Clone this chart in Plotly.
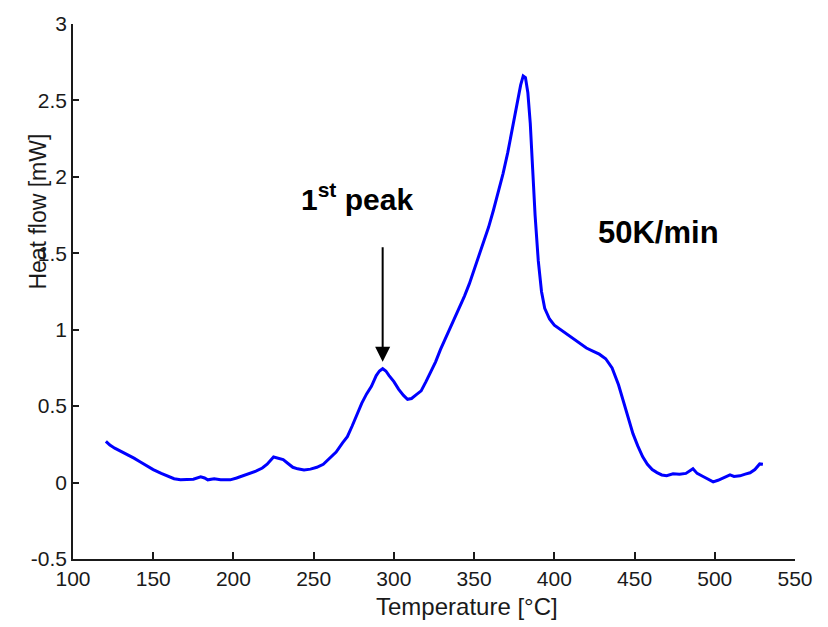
import plotly.graph_objects as go

temperature = [120.5, 123, 126, 130, 134, 138, 142, 146, 150, 155, 159, 163, 167, 171, 175, 179.6, 182, 184, 188, 192,
               198, 202, 206, 210, 214, 218, 221, 225, 228, 231, 234, 237, 240, 244, 248, 252, 256, 260, 264, 268,
               271, 274, 277, 280, 283, 286, 289, 291, 293, 295, 297, 300, 303, 306, 308.5, 311, 314, 317, 320, 323,
               326, 329, 332, 335, 338, 341, 344, 347, 350, 353, 356, 359, 362, 365, 368, 371, 374, 377, 379, 380.6,
               382, 383.5, 385, 386.5, 388, 390, 392, 394, 397, 400, 404, 408, 412, 416, 420, 424, 428, 432, 436, 440,
               443, 446, 449, 452, 455, 458, 461, 464, 467, 470, 474, 478, 482, 486.4, 489, 492.7, 496, 499, 502, 504.5, 507,
               509.5, 512, 515.7, 519, 522, 525, 528, 530]
heat_flow = [0.27, 0.245, 0.225, 0.205, 0.18, 0.16, 0.135, 0.11, 0.085, 0.06, 0.044, 0.025, 0.018, 0.018, 0.022, 0.038, 0.03, 0.018, 0.025, 0.018,
             0.018, 0.03, 0.044, 0.06, 0.075, 0.095, 0.12, 0.167, 0.16, 0.15, 0.125, 0.10, 0.09, 0.083, 0.088, 0.10, 0.12, 0.16, 0.2, 0.26,
             0.30, 0.37, 0.446, 0.52, 0.58, 0.63, 0.70, 0.73, 0.745, 0.73, 0.70, 0.66, 0.61, 0.57, 0.545, 0.55, 0.575, 0.60, 0.66, 0.72,
             0.79, 0.87, 0.94, 1.0, 1.07, 1.14, 1.22, 1.30, 1.39, 1.48, 1.57, 1.67, 1.78, 1.90, 2.02, 2.16, 2.32, 2.50, 2.60, 2.66,
             2.65, 2.55, 2.35, 2.05, 1.75, 1.45, 1.25, 1.14, 1.07, 1.03, 1.0, 0.97, 0.94, 0.91, 0.88, 0.86, 0.84, 0.81, 0.75, 0.64,
             0.53, 0.42, 0.32, 0.24, 0.17, 0.12, 0.085, 0.065, 0.05, 0.045, 0.057, 0.055, 0.06, 0.09, 0.06, 0.04, 0.02, 0.005, 0.015, 0.025, 0.04,
             0.05, 0.04, 0.044, 0.055, 0.064, 0.085, 0.122, 0.12]

x_ticks = [100, 150, 200, 250, 300, 350, 400, 450, 500, 550]
y_ticks = [-0.5, 0, 0.5, 1, 1.5, 2, 2.5, 3]
y_tick_text = ["-0.5", "0", "0.5", "1", "1.5", "2", "2.5", "3"]

FONT = "Liberation Sans, Arial, Helvetica, sans-serif"
AXC = "#1a1a1a"

fig = go.Figure()
fig.add_trace(go.Scatter(x=temperature, y=heat_flow, mode="lines",
                         line=dict(color="#0000ff", width=3), showlegend=False))

fig.update_layout(
    width=828, height=627,
    margin=dict(l=73, r=33, t=19, b=68),
    plot_bgcolor="white", paper_bgcolor="white",
    font=dict(family=FONT, size=21, color=AXC),
    xaxis=dict(range=[100, 550], tickvals=x_ticks, ticks="inside", ticklen=7, tickwidth=1.5,
               tickcolor=AXC, showline=True, linecolor=AXC, linewidth=1.5, showgrid=False,
               zeroline=False, tickfont=dict(size=21, family=FONT, color=AXC)),
    yaxis=dict(range=[-0.5, 3], tickvals=y_ticks, ticktext=y_tick_text, ticks="inside", ticklen=6,
               tickwidth=1.5, tickcolor=AXC, showline=True, linecolor=AXC, linewidth=1.5,
               showgrid=False, zeroline=False, tickfont=dict(size=21, family=FONT, color=AXC)),
    annotations=[
        dict(text="Temperature [°C]", xref="paper", yref="paper", x=0.546, y=-0.089,
             xanchor="center", yanchor="middle", showarrow=False,
             font=dict(size=24, family=FONT, color=AXC)),
        dict(text="Heat flow [mW]", xref="paper", yref="paper", x=-0.048, y=0.65,
             xanchor="center", yanchor="middle", textangle=-90, showarrow=False,
             font=dict(size=23, family=FONT, color=AXC)),
        dict(text="<b>1<sup>st</sup> peak</b>", xref="x", yref="y", x=276.7, y=1.87,
             xanchor="center", yanchor="middle", showarrow=False,
             font=dict(size=30, family=FONT, color="black")),
        dict(text="<b>50K/min</b>", xref="x", yref="y", x=465, y=1.635,
             xanchor="center", yanchor="middle", showarrow=False,
             font=dict(size=31, family=FONT, color="black")),
        dict(text="", xref="x", yref="y", x=293, y=0.79, axref="x", ayref="y", ax=293, ay=1.55,
             showarrow=True, arrowhead=2, arrowsize=1.5, arrowwidth=2, arrowcolor="black"),
    ],
)

fig.write_html("out.html")
